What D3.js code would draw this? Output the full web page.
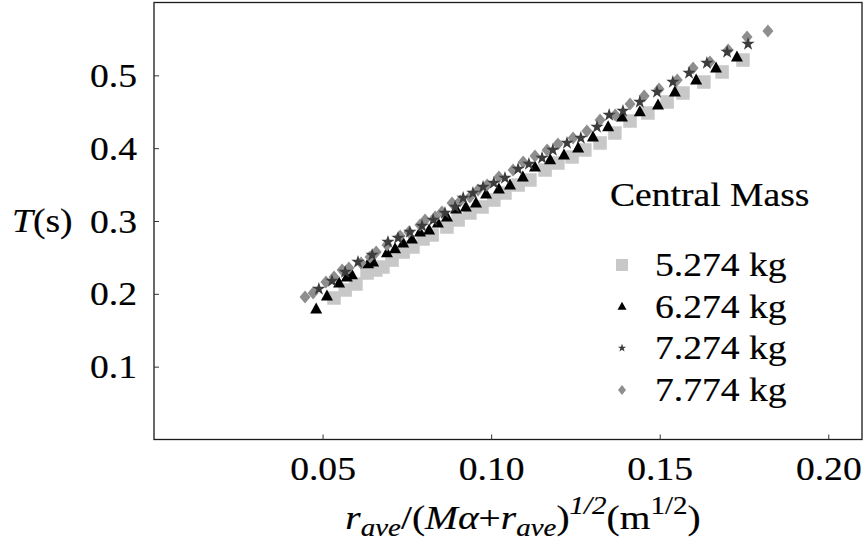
<!DOCTYPE html>
<html><head><meta charset="utf-8">
<script src="https://cdn.jsdelivr.net/npm/d3@7"></script>
<style>
html,body{margin:0;padding:0;background:#fff;}
svg text{font-family:"Liberation Serif","Times New Roman",serif;fill:#000;stroke:#000;stroke-width:0.18px;}
</style></head>
<body>
<svg id="chart" width="867" height="544"></svg>
<script>
// ---- data (x = r_ave/(Mα+r_ave)^1/2, y = T in s) ----
const seriesNames = ["5.274 kg", "6.274 kg", "7.274 kg", "7.774 kg"];
const xTicks = [0.05, 0.10, 0.15, 0.20];
const yTicks = [0.1, 0.2, 0.3, 0.4, 0.5];
const legendTitle = "Central Mass";

const mass5274 = [
[0.0534,0.1943],[0.0567,0.2053],[0.0599,0.2135],[0.0632,0.2286],[0.0658,0.2327],[0.0679,0.2368],
[0.0706,0.2464],[0.0739,0.2574],[0.0768,0.2643],[0.0798,0.2753],[0.0825,0.2808],[0.0869,0.2918],
[0.0902,0.3014],[0.0937,0.3110],[0.0973,0.3192],[0.1008,0.3288],[0.1041,0.3384],[0.1080,0.3494],
[0.1115,0.3563],[0.1160,0.3700],[0.1198,0.3796],[0.1240,0.3879],[0.1278,0.3975],[0.1323,0.4071],
[0.1367,0.4208],[0.1412,0.4373],[0.1465,0.4483],[0.1522,0.4634],[0.1569,0.4757],[0.1631,0.4908],
[0.1685,0.5046],[0.1747,0.5210]];
const mass6274 = [
[0.0481,0.1792],[0.0513,0.1970],[0.0549,0.2149],[0.0572,0.2231],[0.0587,0.2259],[0.0635,0.2410],
[0.0650,0.2437],[0.0691,0.2561],[0.0715,0.2616],[0.0739,0.2698],[0.0765,0.2753],[0.0789,0.2849],
[0.0816,0.2876],[0.0842,0.2972],[0.0869,0.3055],[0.0896,0.3165],[0.0925,0.3192],[0.0955,0.3247],
[0.0985,0.3371],[0.1023,0.3439],[0.1056,0.3494],[0.1094,0.3604],[0.1130,0.3741],[0.1175,0.3838],
[0.1216,0.3906],[0.1258,0.4002],[0.1302,0.4153],[0.1347,0.4291],[0.1388,0.4428],[0.1441,0.4497],
[0.1495,0.4593],[0.1545,0.4771],[0.1608,0.4936],[0.1667,0.5101],[0.1729,0.5252]];
const mass7274 = [
[0.0489,0.2066],[0.0528,0.2176],[0.0567,0.2300],[0.0605,0.2437],[0.0647,0.2533],[0.0694,0.2712],
[0.0724,0.2767],[0.0759,0.2849],[0.0795,0.2931],[0.0828,0.3014],[0.0863,0.3110],[0.0893,0.3192],
[0.0917,0.3316],[0.0946,0.3384],[0.0976,0.3467],[0.1008,0.3522],[0.1041,0.3590],[0.1080,0.3714],
[0.1112,0.3783],[0.1151,0.3865],[0.1183,0.3975],[0.1225,0.4071],[0.1266,0.4140],[0.1314,0.4291],
[0.1350,0.4455],[0.1391,0.4510],[0.1441,0.4634],[0.1492,0.4771],[0.1539,0.4908],[0.1587,0.5032],
[0.1640,0.5169],[0.1700,0.5320],[0.1762,0.5430]];
const mass7774 = [
[0.0448,0.1957],[0.0472,0.2012],[0.0510,0.2163],[0.0534,0.2231],[0.0558,0.2327],[0.0578,0.2355],
[0.0614,0.2423],[0.0641,0.2506],[0.0659,0.2574],[0.0691,0.2671],[0.0730,0.2794],[0.0756,0.2849],
[0.0789,0.2945],[0.0804,0.3014],[0.0834,0.3055],[0.0854,0.3124],[0.0884,0.3248],[0.0908,0.3275],
[0.0937,0.3330],[0.0961,0.3426],[0.0988,0.3494],[0.1023,0.3604],[0.1065,0.3700],[0.1095,0.3810],
[0.1130,0.3892],[0.1166,0.3975],[0.1198,0.4057],[0.1243,0.4140],[0.1284,0.4236],[0.1323,0.4387],
[0.1368,0.4456],[0.1412,0.4607],[0.1454,0.4716],[0.1498,0.4812],[0.1552,0.4936],[0.1599,0.5100],
[0.1649,0.5183],[0.1703,0.5348],[0.1759,0.5527],[0.1821,0.5609]];

// ---- layout ----
const svg = d3.select("#chart");
const L = 154, R = 862, T = 2.5, B = 439.5;
const SX = 1.14; // horizontal stretch of the serif text
const FS = 33;
const x = d3.scaleLinear().domain([0, 0.21]).range([L, R]);
const y = d3.scaleLinear().domain([0, 0.6]).range([B, T]);

// marker shapes
function squarePath(s){const h=s/2;return `M${-h},${-h}H${h}V${h}H${-h}Z`;}
function triPath(w,h){return `M0,${-h*0.6}L${w/2},${h*0.4}L${-w/2},${h*0.4}Z`;}
function diamondPath(w,h){return `M0,${-h/2}L${w/2},0L0,${h/2}L${-w/2},0Z`;}
function starPath(size){return d3.symbol(d3.symbolStar, size)();}

const styles = [
  {name: seriesNames[0], data: mass5274, fill: "#c8c8c8", path: squarePath(13.5), lpath: squarePath(12)},
  {name: seriesNames[1], data: mass6274, fill: "#000000", path: triPath(12,11), lpath: triPath(9,8)},
  {name: seriesNames[3], data: mass7774, fill: "#8e8e8e", path: diamondPath(11,13), lpath: diamondPath(8,10)},
  {name: seriesNames[2], data: mass7274, fill: "#3c3c3c", path: starPath(55), lpath: starPath(22)}
];

// frame
svg.append("rect").attr("x", L).attr("y", T).attr("width", R-L).attr("height", B-T)
  .attr("fill", "none").attr("stroke", "#1a1a1a").attr("stroke-width", 1.3);

// axes (ticks inward, labels outside)
const gx = svg.append("g").attr("transform", `translate(0,${B})`)
  .call(d3.axisBottom(x).tickValues(xTicks).tickFormat(d3.format(".2f")).tickSizeInner(-5).tickSizeOuter(0).tickPadding(0));
gx.select(".domain").remove();
gx.selectAll(".tick line").attr("stroke", "#333").attr("stroke-width", 1);
gx.selectAll(".tick text").attr("font-size", FS).attr("y", 0).attr("dy", 0)
  .attr("font-family", "Liberation Serif").attr("fill", "#000")
  .attr("transform", `translate(0,40) scale(${SX},1)`);

const gy = svg.append("g").attr("transform", `translate(${L},0)`)
  .call(d3.axisLeft(y).tickValues(yTicks).tickFormat(d3.format(".1f")).tickSizeInner(-5).tickSizeOuter(0).tickPadding(0));
gy.select(".domain").remove();
gy.selectAll(".tick line").attr("stroke", "#333").attr("stroke-width", 1);
gy.selectAll(".tick text").attr("font-size", FS).attr("x", 0).attr("dy", 0)
  .attr("font-family", "Liberation Serif").attr("fill", "#000")
  .attr("transform", `translate(-17,11) scale(${SX},1)`);

// points
styles.forEach(s => {
  svg.append("g").selectAll("path").data(s.data).join("path")
    .attr("d", s.path).attr("fill", s.fill)
    .attr("transform", d => `translate(${x(d[0])},${y(d[1])})`);
});

// y-axis title T(s)
const yt = svg.append("text").attr("font-size", FS)
  .attr("transform", `translate(12,${y(0.3)+11}) scale(${SX},1)`);
yt.append("tspan").attr("font-style", "italic").text("T");
yt.append("tspan").text("(s)");

// x-axis title
const SUB = 25;
const xt = svg.append("text").attr("font-size", 34).attr("text-anchor", "middle")
  .attr("transform", `translate(523,529) scale(1.16,1)`);
xt.append("tspan").attr("font-style", "italic").text("r");
xt.append("tspan").attr("font-style", "italic").attr("font-size", SUB).attr("dy", 7).text("ave");
xt.append("tspan").attr("dy", -7).text("/(");
xt.append("tspan").attr("font-style", "italic").text("M\u03b1");
xt.append("tspan").text("+");
xt.append("tspan").attr("font-style", "italic").text("r");
xt.append("tspan").attr("font-style", "italic").attr("font-size", SUB).attr("dy", 7).text("ave");
xt.append("tspan").attr("dy", -7).text(")");
xt.append("tspan").attr("font-style", "italic").attr("font-size", SUB).attr("dy", -15).text("1/2");
xt.append("tspan").attr("dy", 15).text("(m");
xt.append("tspan").attr("font-size", SUB).attr("dy", -15).text("1/2");
xt.append("tspan").attr("dy", 15).text(")");

// legend
svg.append("text").attr("font-size", FS)
  .attr("transform", `translate(610,206) scale(${SX},1)`).text(legendTitle);
const legendOrder = [
  {name: seriesNames[0], st: styles[0], cy: 265},
  {name: seriesNames[1], st: styles[1], cy: 306.5},
  {name: seriesNames[2], st: styles[3], cy: 348},
  {name: seriesNames[3], st: styles[2], cy: 390}
];
const lg = svg.append("g").selectAll("g").data(legendOrder).join("g");
lg.append("path").attr("d", d => d.st.lpath).attr("fill", d => d.st.fill)
  .attr("transform", d => `translate(622,${d.cy})`);
lg.append("text").attr("font-size", FS)
  .attr("transform", d => `translate(655,${d.cy+11}) scale(${SX},1)`).text(d => d.name);
</script>
</body></html>
